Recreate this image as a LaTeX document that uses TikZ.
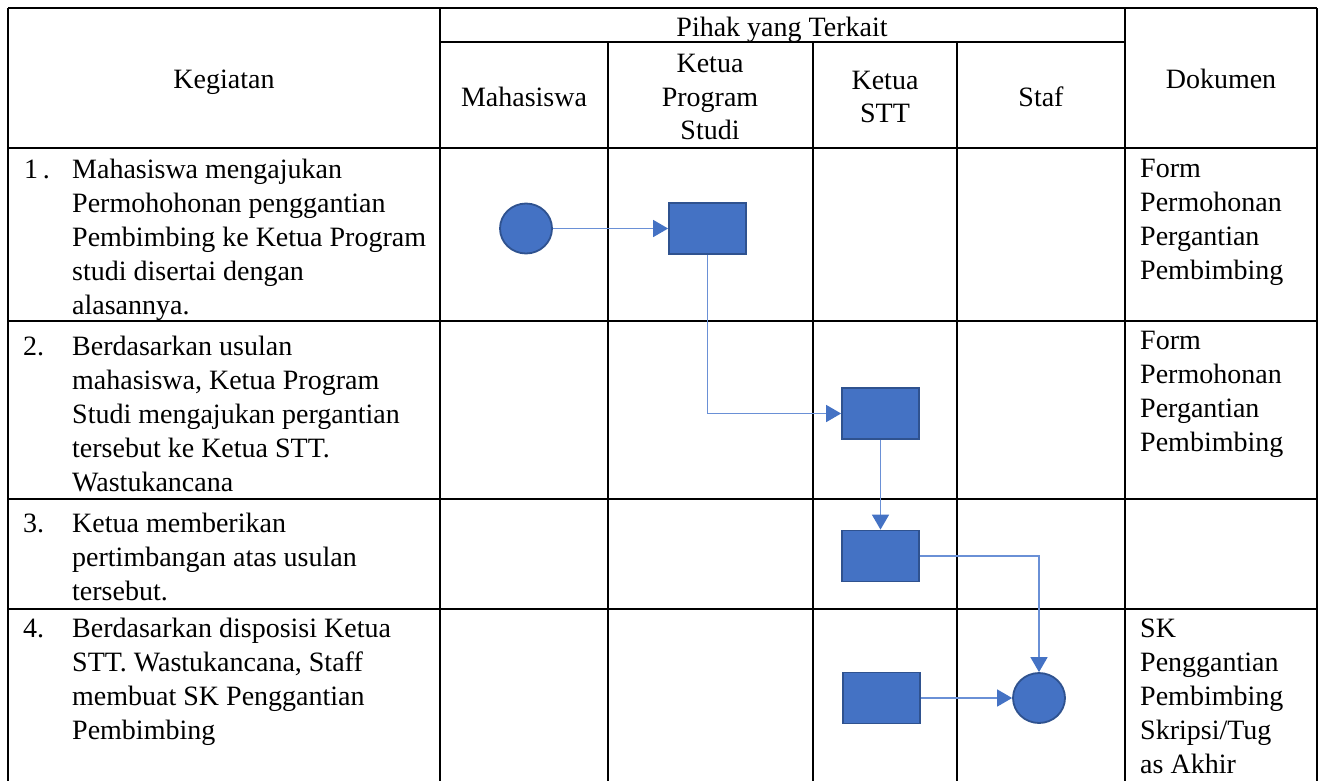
\documentclass[tikz,border=0pt]{standalone}
\usepackage{fontspec}
\setmainfont{Liberation Serif}
\usetikzlibrary{arrows.meta,shapes.geometric}
\definecolor{shapefill}{HTML}{4472C4}
\definecolor{shapeline}{HTML}{2F528F}
\definecolor{conn}{HTML}{6A90D6}
\begin{document}
\begin{tikzpicture}[x=1pt,y=-1pt,
  grid/.style={line width=2.8pt,black},
  txt/.style={inner sep=0pt,font=\fontsize{28}{34}\selectfont,anchor=base west},
  htxt/.style={inner sep=0pt,font=\fontsize{28}{34}\selectfont,anchor=base},
  procbox/.style={rectangle,fill=shapefill,draw=shapeline,line width=1.8pt,minimum width=77pt,minimum height=51pt,inner sep=0pt},
  endpt/.style={ellipse,fill=shapefill,draw=shapeline,line width=1.8pt,minimum width=52pt,minimum height=50pt,inner sep=0pt},
  flow/.style={draw=conn,line width=1.6pt,-{Triangle[length=15pt,width=17pt,fill=shapefill,color=shapefill]}}
]
\useasboundingbox (0,0) rectangle (1324,780);
\fill[white] (0,0) rectangle (1324,780);
% grid
\draw[grid] (8,8) -- (1317,8);
\draw[grid] (440,42) -- (1125,42);
\draw[grid] (8,148) -- (1317,148);
\draw[grid] (8,321) -- (1317,321);
\draw[grid] (8,499) -- (1317,499);
\draw[grid] (8,609) -- (1317,609);
\draw[grid] (8,8) -- (8,781);
\draw[grid] (440,8) -- (440,781);
\draw[grid] (1125,8) -- (1125,781);
\draw[grid] (1317,8) -- (1317,781);
\draw[grid] (608,42) -- (608,781);
\draw[grid] (813,42) -- (813,781);
\draw[grid] (957,42) -- (957,781);
% header
\node[htxt] (hkeg) at (224,88) {Kegiatan};
\node[htxt] (hpihak) at (782,36) {Pihak yang Terkait};
\node[htxt] (hmhs) at (524,106) {Mahasiswa};
\node[htxt] (hkp1) at (710,72) {Ketua};
\node[htxt] (hkp2) at (710,106) {Program};
\node[htxt] (hkp3) at (710,139) {Studi};
\node[htxt] (hks1) at (885,89) {Ketua};
\node[htxt] (hks2) at (885,122) {STT};
\node[htxt] (hstaf) at (1041,106) {Staf};
\node[htxt] (hdok) at (1221,88) {Dokumen};
% row 1
\node[txt] (n1) at (24,178) {1\,.};
\node[txt] (a1) at (72,178) {Mahasiswa mengajukan};
\node[txt] (a2) at (72,212) {Permohohonan penggantian};
\node[txt] (a3) at (72,246) {Pembimbing ke Ketua Program};
\node[txt] (a4) at (72,280) {studi disertai dengan};
\node[txt] (a5) at (72,314) {alasannya.};
\node[txt] (d11) at (1140,177) {Form};
\node[txt] (d12) at (1140,211) {Permohonan};
\node[txt] (d13) at (1140,245) {Pergantian};
\node[txt] (d14) at (1140,279) {Pembimbing};
% row 2
\node[txt] (n2) at (23,355) {2.};
\node[txt] (b1) at (72,355) {Berdasarkan usulan};
\node[txt] (b2) at (72,389) {mahasiswa, Ketua Program};
\node[txt] (b3) at (72,423) {Studi mengajukan pergantian};
\node[txt] (b4) at (72,457) {tersebut ke Ketua STT.};
\node[txt] (b5) at (72,491) {Wastukancana};
\node[txt] (d21) at (1140,349) {Form};
\node[txt] (d22) at (1140,383) {Permohonan};
\node[txt] (d23) at (1140,417) {Pergantian};
\node[txt] (d24) at (1140,451) {Pembimbing};
% row 3
\node[txt] (n3) at (23,532) {3.};
\node[txt] (c1t) at (72,532) {Ketua memberikan};
\node[txt] (c2t) at (72,566) {pertimbangan atas usulan};
\node[txt] (c3t) at (72,600) {tersebut.};
% row 4
\node[txt] (n4) at (23,637) {4.};
\node[txt] (e1) at (72,637) {Berdasarkan disposisi Ketua};
\node[txt] (e2) at (72,671) {STT. Wastukancana, Staff};
\node[txt] (e3) at (72,705) {membuat SK Penggantian};
\node[txt] (e4) at (72,739) {Pembimbing};
\node[txt] (d41) at (1140,637) {SK};
\node[txt] (d42) at (1140,671) {Penggantian};
\node[txt] (d43) at (1140,705) {Pembimbing};
\node[txt] (d44) at (1140,739) {Skripsi/Tug};
\node[txt] (d45) at (1140,773) {as Akhir};
% shapes
\node[endpt] (s1) at (526,228.5) {};
\node[procbox] (p1) at (707.5,228.5) {};
\node[procbox] (p2) at (880.5,413.5) {};
\node[procbox] (p3) at (880.5,556) {};
\node[procbox] (p4) at (881.5,698) {};
\node[endpt] (s2) at (1039,698) {};
% connectors
\draw[flow] (s1.east) -- (p1.west);
\draw[flow] (p1.south) |- (p2.west);
\draw[flow] (p2.south) -- (p3.north);
\draw[flow] (p3.east) -| (s2.north);
\draw[flow] (p4.east) -- (s2.west);
\end{tikzpicture}
\end{document}
